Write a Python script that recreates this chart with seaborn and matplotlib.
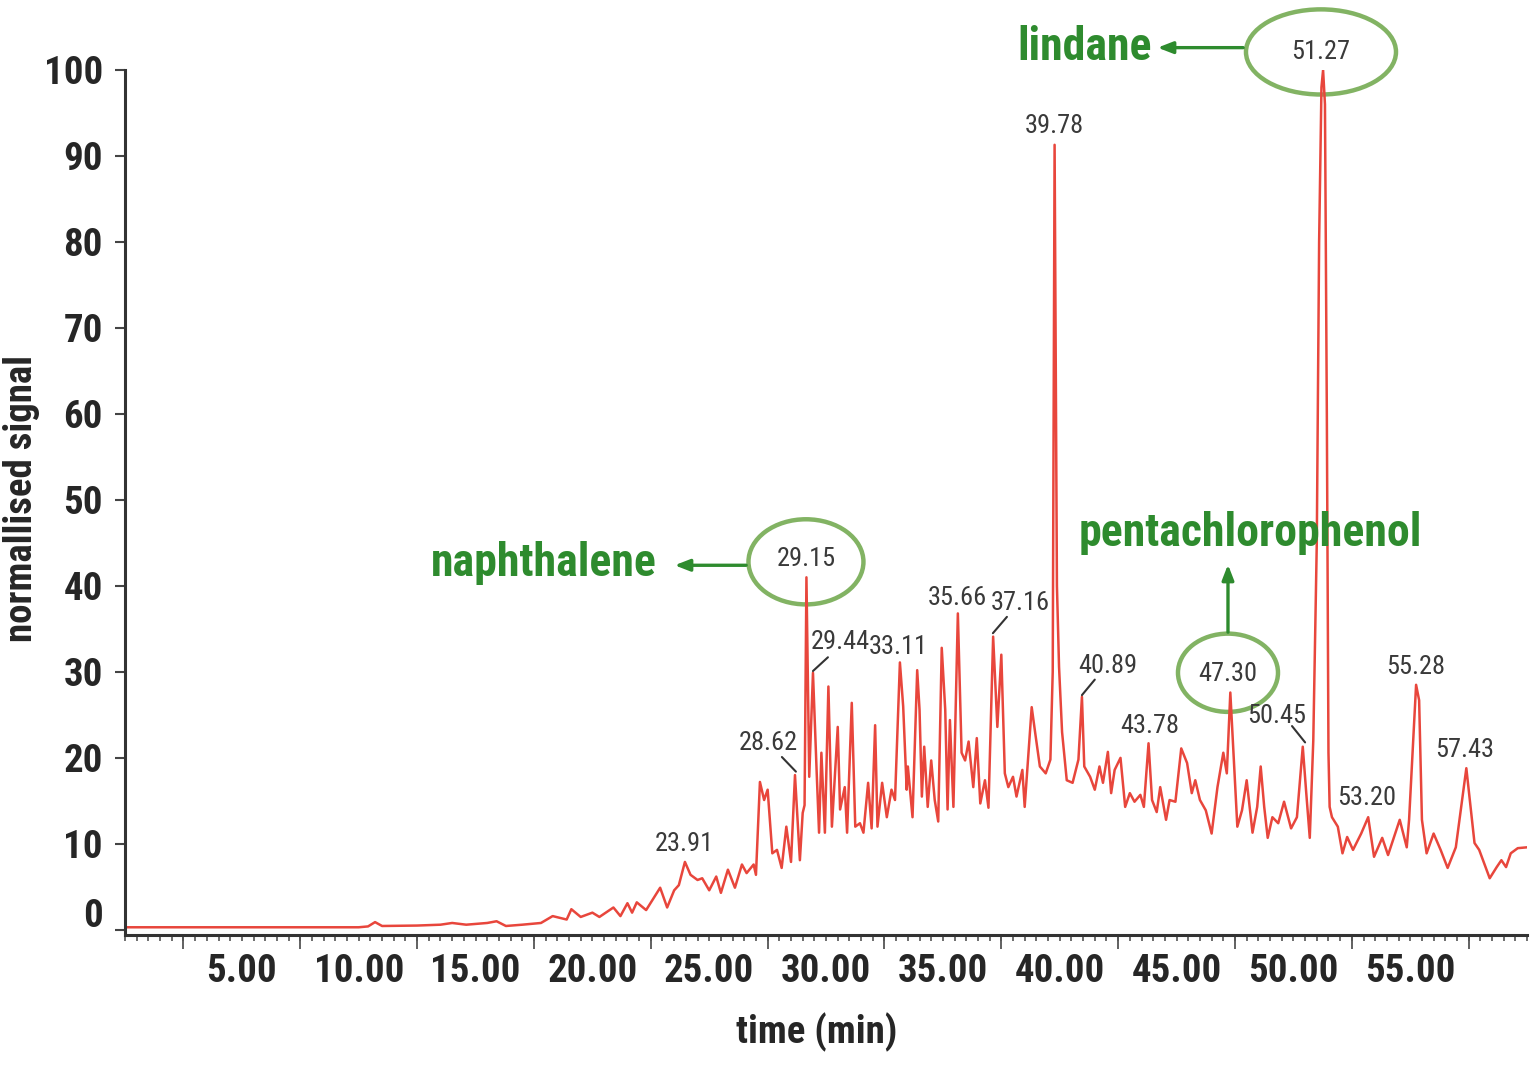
import numpy as np
import pandas as pd
import matplotlib
matplotlib.use("Agg")
import matplotlib.pyplot as plt
from matplotlib.patches import Ellipse
from matplotlib.ticker import MultipleLocator
from matplotlib.transforms import ScaledTranslation
from matplotlib import font_manager
import seaborn as sns

# ===================== DATA =====================
time_min = [
    0.0, 5.0, 10.0, 10.4, 10.7, 11.0, 12.5, 13.5, 14.0, 14.6, 15.5, 15.9, 16.3, 17.0, 17.8,
    18.3, 18.9, 19.1, 19.5, 20.0, 20.3, 20.9, 21.2, 21.5, 21.7, 21.9, 22.3, 22.9, 23.2, 23.5,
    23.7, 23.96, 24.2, 24.5, 24.7, 25.0, 25.3, 25.5, 25.8, 26.1, 26.4, 26.6, 26.9, 27.0, 27.17,
    27.35, 27.5, 27.7, 27.9, 28.1, 28.3, 28.5, 28.67, 28.88, 29.0, 29.08, 29.16, 29.28, 29.44,
    29.6, 29.7, 29.8, 29.95, 30.1, 30.25, 30.5, 30.6, 30.8, 30.9, 31.1, 31.25, 31.45, 31.6,
    31.8, 31.95, 32.1, 32.2, 32.4, 32.6, 32.8, 32.95, 33.16, 33.3, 33.45, 33.5, 33.7, 33.9,
    34.0, 34.1, 34.2, 34.35, 34.5, 34.65, 34.8, 34.95, 35.1, 35.2, 35.3, 35.45, 35.64, 35.8,
    35.95, 36.1, 36.3, 36.45, 36.6, 36.8, 36.95, 37.15, 37.33, 37.5, 37.65, 37.8, 38.0, 38.15,
    38.4, 38.5, 38.8, 38.95, 39.15, 39.4, 39.6, 39.7, 39.78, 39.88, 39.97, 40.1, 40.3, 40.55,
    40.8, 40.95, 41.05, 41.3, 41.5, 41.7, 41.85, 42.06, 42.2, 42.35, 42.6, 42.8, 43.0, 43.2,
    43.45, 43.6, 43.8, 43.95, 44.15, 44.3, 44.55, 44.7, 44.95, 45.2, 45.45, 45.65, 45.8, 46.0,
    46.25, 46.5, 46.75, 47.0, 47.15, 47.3, 47.45, 47.6, 47.8, 48.0, 48.25, 48.45, 48.6, 48.75,
    48.9, 49.1, 49.35, 49.6, 49.9, 50.15, 50.4, 50.55, 50.7, 50.85, 51.0, 51.1, 51.2, 51.27,
    51.35, 51.43, 51.5, 51.55, 51.65, 51.9, 52.1, 52.3, 52.55, 52.9, 53.2, 53.45, 53.8, 54.05,
    54.55, 54.85, 54.95, 55.25, 55.38, 55.5, 55.7, 56.0, 56.3, 56.6, 56.95, 57.4, 57.75, 57.95,
    58.4, 58.7, 58.9, 59.1, 59.3, 59.6, 60.0,
]
signal = [
    0.3, 0.3, 0.3, 0.4, 0.9, 0.45, 0.5, 0.6, 0.8, 0.6, 0.8, 1.0, 0.45, 0.6, 0.8,
    1.6, 1.2, 2.4, 1.5, 2.0, 1.5, 2.6, 1.6, 3.1, 2.0, 3.2, 2.3, 4.9, 2.6, 4.6,
    5.2, 7.9, 6.4, 5.8, 6.0, 4.6, 6.2, 4.3, 7.0, 4.9, 7.6, 6.6, 7.6, 6.4, 17.2,
    15.1, 16.3, 8.9, 9.3, 7.2, 12.0, 7.9, 18.0, 8.1, 13.6, 14.5, 41.0, 17.8, 29.9,
    18.2, 11.3, 20.6, 11.3, 28.3, 12.0, 23.6, 14.0, 16.6, 11.3, 26.4, 12.0, 12.4, 11.3,
    17.1, 11.8, 23.8, 12.0, 17.1, 13.1, 16.3, 15.1, 31.1, 26.0, 16.3, 19.0, 13.1, 30.2,
    25.6, 15.5, 21.3, 14.3, 19.7, 15.1, 12.6, 32.8, 25.6, 14.0, 24.4, 14.3, 36.8, 20.6,
    19.7, 21.9, 16.6, 22.3, 14.7, 17.4, 14.2, 34.1, 23.6, 32.0, 18.2, 16.6, 17.8, 15.5,
    18.6, 14.3, 25.9, 22.9, 19.0, 18.2, 19.8, 30.0, 91.3, 40.0, 30.6, 23.0, 17.4, 17.1,
    19.8, 27.1, 19.0, 17.8, 16.3, 19.0, 17.1, 20.7, 15.9, 18.6, 20.0, 14.3, 15.9, 14.9,
    15.7, 14.3, 21.7, 15.1, 13.7, 16.6, 12.8, 15.1, 14.9, 21.1, 19.4, 15.9, 17.4, 15.1,
    13.9, 11.2, 16.6, 20.6, 18.2, 27.6, 19.8, 12.0, 13.9, 17.4, 11.3, 14.3, 19.0, 14.3,
    10.7, 13.1, 12.4, 14.9, 11.8, 13.1, 21.3, 15.9, 10.7, 22.0, 45.0, 80.0, 98.0, 100.0,
    96.0, 60.0, 20.6, 14.3, 13.1, 12.0, 8.9, 10.8, 9.3, 11.2, 13.1, 8.5, 10.7, 8.7,
    12.8, 9.6, 12.8, 28.5, 26.7, 12.8, 8.9, 11.2, 9.3, 7.2, 9.6, 18.8, 10.1, 9.3,
    6.0, 7.3, 8.1, 7.3, 8.9, 9.5, 9.6,
]

peak_names = ["23.91", "28.62", "29.15", "29.44", "33.11", "35.66", "37.16", "39.78",
              "40.89", "43.78", "47.30", "50.45", "51.27", "53.20", "55.28", "57.43"]
compound_names = ["naphthalene", "lindane", "pentachlorophenol"]

# ===================== LAYOUT =====================
peak_label_pos = [(23.92, 10.0), (27.51, 21.7), (29.14, 43.1), (30.6, 33.5), (33.08, 32.9),
                  (35.64, 38.6), (38.3, 38.0), (39.75, 93.5), (42.06, 30.7), (43.86, 23.7),
                  (47.2, 29.8), (49.3, 24.9), (51.18, 102.1), (53.15, 15.3), (55.24, 30.6),
                  (57.34, 20.9)]
leaders = [((28.11, 20.1), (28.71, 18.4)), ((30.08, 31.7), (29.44, 30.1)),
           ((37.74, 36.4), (37.14, 34.5)), ((41.5, 29.1), (40.95, 27.3)),
           ((49.94, 23.7), (50.5, 21.8))]
ellipses = [((29.14, 42.8), 4.92, 9.9), ((51.18, 102.1), 6.42, 9.9), ((47.2, 29.9), 4.28, 9.1)]

LINE_RED = "#e8463c"
GREEN = "#2e8b2e"
ELL_GREEN = "#82b363"
LABEL_GRAY = "#3a3a3a"

# pick a narrow face if one is around
names = {f.name for f in font_manager.fontManager.ttflist}
narrow = [n for n in ["Liberation Sans Narrow", "Roboto Condensed", "DejaVu Sans Condensed"] if n in names]
FAMILY = narrow[:1] + ["Liberation Sans", "DejaVu Sans"]
SCALE = 1.0 if narrow else 0.85   # shrink text when only wide faces exist

# ===================== PLOT =====================
sns.set_style("white")
plt.rcParams['font.family'] = FAMILY
plt.rcParams['font.weight'] = 'bold'

fig = plt.figure(figsize=(15.36, 10.67), dpi=100)
ax = fig.add_axes([0.0814, 0.1237, 0.9128, 0.8107])

df = pd.DataFrame({"time (min)": time_min, "signal": signal})
sns.lineplot(data=df, x="time (min)", y="signal", ax=ax, color=LINE_RED,
             linewidth=1.8, estimator=None, sort=False)

ax.set_xlim(0, 60)
ax.set_ylim(-0.6, 100)
for side in ["top", "right"]:
    ax.spines[side].set_visible(False)
for side in ["left", "bottom"]:
    ax.spines[side].set_color("#333333")
    ax.spines[side].set_linewidth(2.2)

ax.set_xticks(np.arange(5, 56, 5))
ax.set_xticklabels([f"{v:.2f}" for v in np.arange(5, 56, 5)])
ax.xaxis.set_minor_locator(MultipleLocator(0.5))
ax.tick_params(axis="x", which="both", direction="out", length=4, width=1.2,
               color="#555555", pad=9, labelsize=28 * SCALE, bottom=True)
sec = ax.secondary_xaxis("bottom")
sec.set_xticks(np.arange(2.5, 60, 5))
sec.tick_params(length=10, width=1.3, color="#555555", labelbottom=False)
sec.spines["bottom"].set_visible(False)

ax.set_yticks(np.arange(0, 101, 10))
ax.tick_params(axis="y", direction="out", length=7, width=1.5, color="#444444",
               pad=9, labelsize=28 * SCALE, left=True)
zero_lab = ax.get_yticklabels()[0]
zero_lab.set_transform(zero_lab.get_transform() + ScaledTranslation(0, 0.17, fig.dpi_scale_trans))

ax.set_xlabel("time (min)", fontsize=28 * SCALE, fontweight="bold", va="center")
ax.xaxis.set_label_coords(0.493, -0.112)
ax.set_ylabel("normallised signal", fontsize=28 * SCALE, fontweight="bold", va="center")
ax.yaxis.set_label_coords(-0.0735, 0.505)

for name, (px, py) in zip(peak_names, peak_label_pos):
    ax.text(px, py, name, fontsize=19 * (1 if narrow else 0.9), fontweight="normal",
            color=LABEL_GRAY, ha="center", va="center", clip_on=False)
for (x0, y0), (x1, y1) in leaders:
    ax.plot([x0, x1], [y0, y1], color="#333333", lw=1.5)

for (cx, cy), w, h in ellipses:
    ax.add_patch(Ellipse((cx, cy), w, h, fill=False, edgecolor=ELL_GREEN, lw=3.2, clip_on=False))

arrow_kw = dict(arrowstyle="-|>,head_length=0.9,head_width=0.35", color=GREEN, lw=2.4)
ax.annotate("", xy=(23.4, 42.4), xytext=(26.7, 42.4), arrowprops=arrow_kw, annotation_clip=False)
ax.annotate("", xy=(44.07, 102.6), xytext=(47.97, 102.6), arrowprops=arrow_kw, annotation_clip=False)
ax.annotate("", xy=(47.2, 42.8), xytext=(47.2, 34.3), arrowprops=arrow_kw, annotation_clip=False)

gsize = 33 * (1 if narrow else 0.85)
ax.text(22.76, 42.7, compound_names[0], fontsize=gsize, color=GREEN, ha="right", va="center", clip_on=False)
ax.text(43.95, 102.7, compound_names[1], fontsize=gsize, color=GREEN, ha="right", va="center", clip_on=False)
ax.text(48.14, 46.1, compound_names[2], fontsize=gsize, color=GREEN, ha="center", va="center", clip_on=False)

fig.savefig("out.png", dpi=100)
